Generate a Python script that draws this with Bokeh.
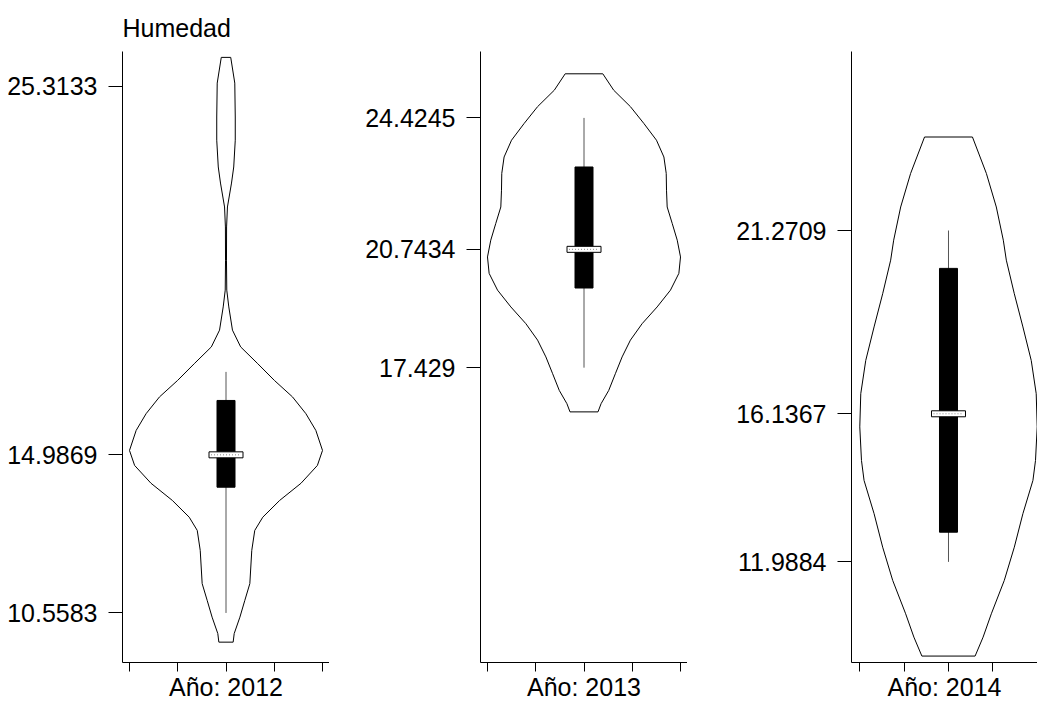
from bokeh.plotting import figure
from bokeh.layouts import row
from bokeh.models import Range1d, FixedTicker
from bokeh.embed import file_html
from bokeh.resources import INLINE

# Humidity summary per year
years = ["2012", "2013", "2014"]
whisker_low = [10.5583, 17.429, 11.9884]
q1 = [14.08, 19.66, 12.82]
medians = [14.9869, 20.7434, 16.1367]
q3 = [16.51, 23.05, 20.21]
whisker_high = [17.31, 24.4245, 21.2709]
maxima = [25.3133, 24.4245, 21.2709]

# y tick values and their printed labels for each year
y_ticks = [
    [10.5583, 14.9869, 25.3133],
    [17.429, 20.7434, 24.4245],
    [11.9884, 16.1367, 21.2709],
]
y_tick_labels = [
    ["10.5583", "14.9869", "25.3133"],
    ["17.429", "20.7434", "24.4245"],
    ["11.9884", "16.1367", "21.2709"],
]

# Kernel density outlines (humidity level, relative density)
hum_2012 = [26.12, 25.40, 24.45, 23.80, 23.05, 22.60, 21.93, 21.37, 20.44, 19.60,
            19.13, 18.48, 18.01, 17.54, 17.07, 16.61, 16.14, 15.67, 15.11, 14.69,
            14.19, 13.71, 13.24, 12.87, 12.31, 11.38, 10.91, 10.44, 9.98, 9.74]
dens_2012 = [0.049, 0.091, 0.096, 0.096, 0.080, 0.057, 0.015, 0.006, 0.005, 0.008,
             0.029, 0.067, 0.152, 0.329, 0.502, 0.689, 0.828, 0.931, 1.000, 0.947,
             0.777, 0.556, 0.381, 0.298, 0.267, 0.247, 0.195, 0.144, 0.085, 0.074]

hum_2013 = [25.66, 25.20, 24.74, 24.27, 23.80, 23.33, 22.87, 22.40, 21.93, 21.47,
            21.00, 20.53, 20.07, 19.60, 19.13, 18.66, 18.20, 17.73, 17.26, 16.79,
            16.42, 16.19]
dens_2013 = [0.195, 0.308, 0.481, 0.620, 0.751, 0.828, 0.852, 0.855, 0.862, 0.914,
             0.966, 1.000, 0.983, 0.896, 0.758, 0.602, 0.481, 0.395, 0.325, 0.256,
             0.177, 0.145]

hum_2014 = [23.89, 22.87, 21.93, 21.00, 20.44, 19.50, 18.57, 17.63, 16.70, 15.77,
            14.83, 14.27, 13.34, 12.40, 11.47, 10.535, 9.88, 9.35]
dens_2014 = [0.270, 0.427, 0.539, 0.618, 0.652, 0.742, 0.839, 0.933, 0.989, 1.000,
             0.981, 0.952, 0.839, 0.742, 0.629, 0.483, 0.390, 0.300]

violin_levels = [hum_2012, hum_2013, hum_2014]
violin_density = [dens_2012, dens_2013, dens_2014]

x_ticks = [0.6, 0.8, 1.0, 1.2, 1.4]

FONT = "Liberation Sans"
FS = "25px"
HALF_WIDTH = 0.4

y_range = Range1d(9.17, 26.285)

# per-panel geometry
frame_widths = [207, 207, 186]
left_borders = [122, 151, 164]
x_ranges = [(0.571, 1.429), (0.571, 1.429), (0.5626, 1.4014)]

panels = []
for i, yr in enumerate(years):
    p = figure(
        frame_width=frame_widths[i], frame_height=611,
        min_border_left=left_borders[i], min_border_right=0,
        min_border_top=51, min_border_bottom=40,
        x_range=Range1d(*x_ranges[i]), y_range=y_range,
        output_backend="svg", toolbar_location=None,
        title="Humedad" if i == 0 else None,
    )
    p.outline_line_color = None
    p.grid.visible = False
    p.background_fill_color = "white"
    p.border_fill_color = "white"

    if i == 0:
        p.title.align = "left"
        p.title.text_font = FONT
        p.title.text_font_size = FS
        p.title.text_font_style = "normal"
        p.title.text_color = "black"
        p.title.text_line_height = 1.0
        p.title.standoff = 19

    # x axis: unlabeled ticks, year as axis label
    xa = p.xaxis[0]
    xa.ticker = FixedTicker(ticks=x_ticks, minor_ticks=[])
    xa.major_label_text_font_size = "0px"
    xa.major_label_standoff = 0
    xa.major_tick_out = 9
    xa.major_tick_in = 0
    xa.axis_label = f"Año: {yr}"
    xa.axis_label_text_font = FONT
    xa.axis_label_text_font_size = FS
    xa.axis_label_text_font_style = "normal"
    xa.axis_label_text_color = "black"
    xa.axis_label_standoff = 1
    xa.axis_line_color = "black"
    xa.major_tick_line_color = "black"

    # y axis
    ya = p.yaxis[0]
    ya.ticker = FixedTicker(ticks=y_ticks[i], minor_ticks=[])
    ya.major_label_overrides = {v: s for v, s in zip(y_ticks[i], y_tick_labels[i])}
    ya.major_label_text_font = FONT
    ya.major_label_text_font_size = FS
    ya.major_label_text_color = "black"
    ya.major_tick_out = 14
    ya.major_tick_in = 0
    ya.major_label_standoff = 11
    ya.axis_line_color = "black"
    ya.major_tick_line_color = "black"

    # violin outline
    lev = violin_levels[i]
    den = violin_density[i]
    xs = [1 + HALF_WIDTH * d for d in den] + [1 - HALF_WIDTH * d for d in reversed(den)]
    ys = list(lev) + list(reversed(lev))
    p.patch(xs, ys, fill_color="white", line_color="black", line_width=1)

    # whisker
    p.segment(x0=[1], y0=[whisker_low[i]], x1=[1], y1=[whisker_high[i]],
              line_color="#555555", line_width=1)

    # interquartile box
    p.rect(x=[1], y=[(q1[i] + q3[i]) / 2], width=18, height=[q3[i] - q1[i]],
           width_units="screen", fill_color="black", line_color="black")

    # median marker
    p.rect(x=[1], y=[medians[i]], width=34, height=6,
           width_units="screen", height_units="screen",
           fill_color="white", line_color="black", line_width=1)
    p.scatter(x=[1], y=[medians[i]], marker="dash", size=30,
              line_color="#888888", line_dash="1 2", line_width=1)

    panels.append(p)

layout = row(*panels, spacing=0)
open("out.html", "w").write(file_html(layout, INLINE))
